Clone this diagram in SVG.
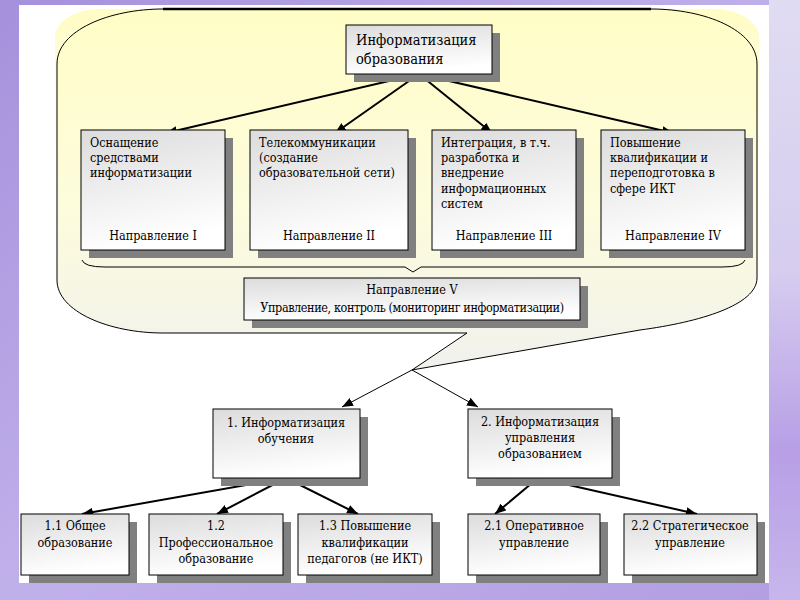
<svg xmlns="http://www.w3.org/2000/svg" width="800" height="600" viewBox="0 0 800 600">
<defs>
<linearGradient id="bg" x1="0" y1="0" x2="1" y2="1">
<stop offset="0" stop-color="#a591dc"/>
<stop offset="0.5" stop-color="#c0b0ea"/>
<stop offset="1" stop-color="#b29ee2"/>
</linearGradient>
<linearGradient id="rstrip" x1="0" y1="0" x2="0" y2="1">
<stop offset="0" stop-color="#e0dcf2"/>
<stop offset="0.45" stop-color="#d6cdef"/>
<stop offset="0.75" stop-color="#b89fe6"/>
<stop offset="1" stop-color="#c7b6ec"/>
</linearGradient>
<linearGradient id="callout" x1="0" y1="0" x2="0" y2="1">
<stop offset="0" stop-color="#fffdc6"/>
<stop offset="0.55" stop-color="#fdfcdc"/>
<stop offset="1" stop-color="#f1f1ee"/>
</linearGradient>
<linearGradient id="glow" x1="0" y1="0" x2="0" y2="1">
<stop offset="0" stop-color="#fffcc4"/>
<stop offset="1" stop-color="#fffcc4" stop-opacity="0"/>
</linearGradient>
<linearGradient id="box" x1="0" y1="0" x2="0.25" y2="1">
<stop offset="0" stop-color="#dcdcdc"/>
<stop offset="1" stop-color="#ffffff"/>
</linearGradient>
<marker id="ah" viewBox="0 0 10 8" refX="10" refY="4" markerWidth="11" markerHeight="9" markerUnits="userSpaceOnUse" orient="auto">
<path d="M0,0 L10,4 L0,8 z" fill="#000"/>
</marker>
<style>
.sh{fill:#808080}
.bx{fill:url(#box);stroke:#000;stroke-width:1}
.t{font-family:"DejaVu Serif Condensed","DejaVu Serif","Liberation Serif",serif;font-stretch:condensed;font-size:12.5px;fill:#000}
.c{text-anchor:middle}
.big{font-size:14.5px}
.tight{letter-spacing:-0.4px}
.ar{fill:none;stroke:#000;stroke-width:2;marker-end:url(#ah)}
.thin{stroke-width:1}
</style>
</defs>

<!-- background -->
<rect x="0" y="0" width="800" height="600" fill="url(#bg)"/>
<rect x="769" y="0" width="31" height="600" fill="url(#rstrip)"/>
<rect x="19" y="5" width="750" height="578" fill="#ffffff"/>

<!-- callout -->
<g id="callout">
<rect x="55" y="9" width="704" height="170" rx="45" ry="28" fill="url(#glow)"/>
<path d="M163,9 L651,9 C705,9 757,30 757,64 L757,278 C757,305 700,322 640,330 L412,370 L467,333 L163,333 C110,333 57,312 57,280 L57,64 C57,30 110,9 163,9 Z" fill="url(#callout)" stroke="#000" stroke-width="1"/>
<line x1="163" y1="9" x2="651" y2="9" stroke="#000" stroke-width="2.5"/>
<path d="M82,260 Q84,267 105,267 L405,267 L413,272 L421,267 L722,267 Q743,267 745,260" fill="none" stroke="#000" stroke-width="1"/>
</g>

<!-- connectors -->
<g id="connectors">
<line class="ar" x1="419" y1="74" x2="166" y2="133"/>
<line class="ar" x1="419" y1="74" x2="335" y2="133"/>
<line class="ar" x1="419" y1="74" x2="492" y2="133"/>
<line class="ar" x1="419" y1="74" x2="673" y2="133"/>
<line class="ar thin" x1="412" y1="370" x2="342" y2="407"/>
<line class="ar thin" x1="412" y1="370" x2="478" y2="407"/>
<line class="ar" x1="286" y1="478" x2="82" y2="514"/>
<line class="ar" x1="286" y1="478" x2="217" y2="514"/>
<line class="ar" x1="286" y1="478" x2="358" y2="514"/>
<line class="ar" x1="538" y1="478" x2="495" y2="514"/>
<line class="ar" x1="538" y1="478" x2="697" y2="514"/>
</g>

<!-- top node -->
<g id="n0">
<rect class="sh" x="354" y="33" width="146" height="49"/>
<rect class="bx" x="346" y="25" width="146" height="49"/>
<text class="t big" x="356" y="45">Информатизация</text>
<text class="t big" x="356" y="64">образования</text>
</g>

<g id="n1">
<rect class="sh" x="89" y="138" width="144" height="120"/>
<rect class="bx" x="81" y="130" width="144" height="120"/>
<text class="t" x="90" y="147">Оснащение</text>
<text class="t" x="90" y="162">средствами</text>
<text class="t" x="90" y="177">информатизации</text>
<text class="t c" x="153" y="240">Направление I</text>
</g>

<g id="n2">
<rect class="sh" x="258" y="138" width="158" height="120"/>
<rect class="bx" x="250" y="130" width="158" height="120"/>
<text class="t" x="259" y="147">Телекоммуникации</text>
<text class="t" x="259" y="162">(создание</text>
<text class="t" x="259" y="177">образовательной сети)</text>
<text class="t c" x="329" y="240">Направление II</text>
</g>

<g id="n3">
<rect class="sh" x="440" y="138" width="144" height="120"/>
<rect class="bx" x="432" y="130" width="144" height="120"/>
<text class="t" x="441" y="147">Интеграция, в т.ч.</text>
<text class="t" x="441" y="162">разработка и</text>
<text class="t" x="441" y="177">внедрение</text>
<text class="t" x="441" y="193">информационных</text>
<text class="t" x="441" y="208">систем</text>
<text class="t c" x="504" y="240">Направление III</text>
</g>

<g id="n4">
<rect class="sh" x="609" y="138" width="144" height="120"/>
<rect class="bx" x="601" y="130" width="144" height="120"/>
<text class="t" x="610" y="147">Повышение</text>
<text class="t" x="610" y="162">квалификации и</text>
<text class="t" x="610" y="177">переподготовка в</text>
<text class="t" x="610" y="193">сфере ИКТ</text>
<text class="t c" x="673" y="240">Направление IV</text>
</g>

<g id="n5">
<rect class="sh" x="252" y="286" width="336" height="42"/>
<rect class="bx" x="244" y="278" width="336" height="42"/>
<text class="t c" x="412" y="294">Направление V</text>
<text class="t c tight" x="412" y="312">Управление, контроль (мониторинг информатизации)</text>
</g>

<g id="n6">
<rect class="sh" x="221" y="417" width="147" height="69"/>
<rect class="bx" x="213" y="409" width="147" height="69"/>
<text class="t c" x="286" y="427">1. Информатизация</text>
<text class="t c" x="286" y="443">обучения</text>
</g>

<g id="n7">
<rect class="sh" x="476" y="417" width="144" height="69"/>
<rect class="bx" x="468" y="409" width="144" height="69"/>
<text class="t c" x="540" y="426">2. Информатизация</text>
<text class="t c" x="540" y="442">управления</text>
<text class="t c" x="540" y="458">образованием</text>
</g>

<g id="n8">
<rect class="sh" x="29" y="522" width="108" height="61"/>
<rect class="bx" x="21" y="514" width="108" height="61"/>
<text class="t c" x="75" y="530">1.1 Общее</text>
<text class="t c" x="75" y="547">образование</text>
</g>

<g id="n9">
<rect class="sh" x="157" y="522" width="134" height="61"/>
<rect class="bx" x="149" y="514" width="134" height="61"/>
<text class="t c" x="216" y="530">1.2</text>
<text class="t c" x="216" y="547">Профессиональное</text>
<text class="t c" x="216" y="563">образование</text>
</g>

<g id="n10">
<rect class="sh" x="306" y="522" width="134" height="61"/>
<rect class="bx" x="298" y="514" width="134" height="61"/>
<text class="t c" x="365" y="530">1.3 Повышение</text>
<text class="t c" x="365" y="547">квалификации</text>
<text class="t c" x="365" y="563">педагогов (не ИКТ)</text>
</g>

<g id="n11">
<rect class="sh" x="476" y="522" width="132" height="61"/>
<rect class="bx" x="468" y="514" width="132" height="61"/>
<text class="t c" x="534" y="530">2.1 Оперативное</text>
<text class="t c" x="534" y="547">управление</text>
</g>

<g id="n12">
<rect class="sh" x="632" y="522" width="133" height="61"/>
<rect class="bx" x="624" y="514" width="133" height="61"/>
<text class="t c" x="690" y="530">2.2 Стратегическое</text>
<text class="t c" x="690" y="547">управление</text>
</g>
</svg>
